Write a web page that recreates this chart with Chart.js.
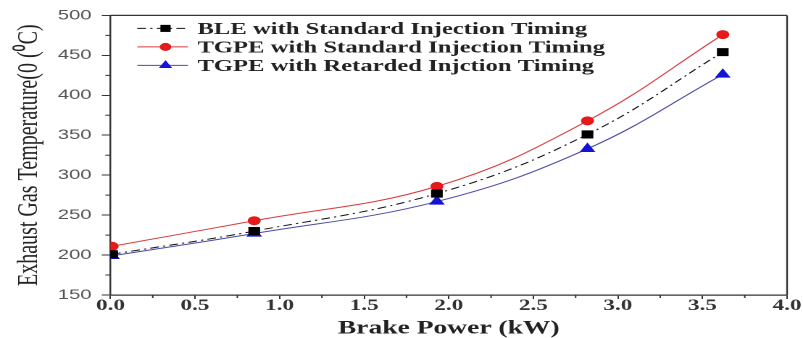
<!DOCTYPE html>
<html>
<head>
<meta charset="utf-8">
<script src="https://cdn.jsdelivr.net/npm/chart.js@4/dist/chart.umd.min.js"></script>
<style>
html,body{margin:0;padding:0;background:#fff;}
#c{display:block;width:803px;height:338px;}
</style>
</head>
<body>
<canvas id="c" width="554" height="338" style="width:803px;height:338px;"></canvas>
<script>
// ---- data ----
const brakePower = [0.01, 0.85, 1.93, 2.82, 3.62];
const bleStandard = [201, 230, 277, 351, 454];
const tgpeStandard = [211, 243, 286, 368, 476];
const tgpeRetarded = [199, 227, 267, 333, 426];
const seriesNames = [
  'BLE with Standard Injection Timing',
  'TGPE with Standard Injection Timing',
  'TGPE with Retarded Injction Timing'
];
const yTitle = 'Exhaust Gas Temperature(0 (\u2070C)';
const xTitle = 'Brake Power (kW)';

const toXY = (vals) => vals.map((v, i) => ({x: brakePower[i], y: v}));

const AXIS = '#333';

const frameAndMinor = {
  id: 'frameAndMinor',
  afterDraw(chart) {
    const {ctx, chartArea: a, scales: {x, y}} = chart;
    ctx.save();
    ctx.strokeStyle = AXIS;
    ctx.lineWidth = 1.2;
    ctx.beginPath();
    ctx.moveTo(a.left, a.top); ctx.lineTo(a.right, a.top);
    ctx.moveTo(a.right, a.top); ctx.lineTo(a.right, a.bottom);
    ctx.stroke();
    // minor ticks
    ctx.lineWidth = 1;
    ctx.beginPath();
    const yt = y.ticks;
    for (let i = 0; i < yt.length - 1; i++) {
      const p = y.getPixelForValue((yt[i].value + yt[i+1].value) / 2);
      ctx.moveTo(a.left, p); ctx.lineTo(a.left - 3.5, p);
    }
    const xt = x.ticks;
    for (let i = 0; i < xt.length - 1; i++) {
      const p = x.getPixelForValue((xt[i].value + xt[i+1].value) / 2);
      ctx.moveTo(p, a.bottom); ctx.lineTo(p, a.bottom + 3);
    }
    ctx.stroke();
    ctx.restore();
  }
};

const insideLegend = {
  id: 'insideLegend',
  afterDatasetsDraw(chart) {
    const {ctx, chartArea: a} = chart;
    const rows = [13, 31.5, 50];
    ctx.save();
    chart.data.datasets.forEach((ds, i) => {
      const yy = a.top + rows[i];
      const x0 = a.left + 18.5, x1 = a.left + 53.5, xm = a.left + 38;
      ctx.save();
      ctx.strokeStyle = ds.borderColor;
      ctx.lineWidth = ds.borderWidth;
      ctx.setLineDash(ds.borderDash || []);
      ctx.beginPath(); ctx.moveTo(x0, yy); ctx.lineTo(x1, yy); ctx.stroke();
      ctx.restore();
      ctx.save();
      ctx.fillStyle = ds.pointBackgroundColor;
      ctx.strokeStyle = ds.pointBorderColor;
      ctx.lineWidth = 1;
      Chart.helpers.drawPoint(ctx, {pointStyle: ds.pointStyle, radius: ds.pointRadius, rotation: 0}, xm, yy);
      ctx.restore();
      ctx.fillStyle = '#222';
      ctx.font = 'bold 17px "Liberation Serif", "Times New Roman", serif';
      ctx.textBaseline = 'middle';
      ctx.textAlign = 'left';
      ctx.fillText(ds.label, a.left + 60, yy + 1);
    });
    ctx.restore();
  }
};

new Chart(document.getElementById('c'), {
  type: 'line',
  data: {
    datasets: [
      {
        label: seriesNames[0], data: toXY(bleStandard),
        borderColor: '#111', borderWidth: 1, borderDash: [6, 3, 1.5, 3],
        pointStyle: 'rect', pointRadius: 5, pointBackgroundColor: '#000', pointBorderColor: '#000',
        tension: 0.4, fill: false
      },
      {
        label: seriesNames[1], data: toXY(tgpeStandard),
        borderColor: '#d83a3a', borderWidth: 1,
        pointStyle: 'circle', pointRadius: 4, pointBackgroundColor: '#e61a1a', pointBorderColor: '#e61a1a',
        tension: 0.4, fill: false
      },
      {
        label: seriesNames[2], data: toXY(tgpeRetarded),
        borderColor: '#4a4aa6', borderWidth: 1,
        pointStyle: 'triangle', pointRadius: 5.3, pointBackgroundColor: '#1414d2', pointBorderColor: '#1414d2',
        tension: 0.4, fill: false
      }
    ]
  },
  options: {
    responsive: false,
    devicePixelRatio: 2,
    animation: false,
    layout: {padding: {top: 13, right: 11, left: 0, bottom: 0}},
    plugins: {legend: {display: false}, tooltip: {enabled: false}},
    scales: {
      x: {
        type: 'linear', min: 0, max: 4,
        afterFit(s) { s.height = 43; },
        border: {display: true, color: AXIS, width: 1.2},
        grid: {display: true, drawOnChartArea: false, drawTicks: true, tickLength: 4, tickColor: AXIS},
        ticks: {
          stepSize: 0.5, autoSkip: false, maxRotation: 0, padding: -1, color: '#333',
          font: {family: '"Liberation Serif", "Times New Roman", serif', size: 16, weight: 'bold', lineHeight: 1},
          callback: (v) => Number(v).toFixed(1)
        },
        title: {
          display: true, text: xTitle, color: '#222', padding: {top: 0, bottom: 0},
          font: {family: '"Liberation Serif", "Times New Roman", serif', size: 19, weight: 'bold', lineHeight: 1}
        }
      },
      y: {
        type: 'linear', min: 150, max: 500,
        afterFit(s) { s.width = 76.2; },
        border: {display: true, color: AXIS, width: 1.2},
        grid: {display: true, drawOnChartArea: false, drawTicks: true, tickLength: 6, tickColor: AXIS},
        ticks: {
          stepSize: 50, autoSkip: false, padding: 7, color: '#555',
          font: {family: '"Liberation Sans", Arial, sans-serif', size: 14}
        },
        title: {
          display: true, text: yTitle, color: '#222', padding: {top: 8, bottom: 0},
          font: {family: '"Liberation Serif", "Times New Roman", serif', size: 20, weight: 'normal', lineHeight: 1.2}
        }
      }
    }
  },
  plugins: [frameAndMinor, insideLegend]
});
</script>
</body>
</html>
